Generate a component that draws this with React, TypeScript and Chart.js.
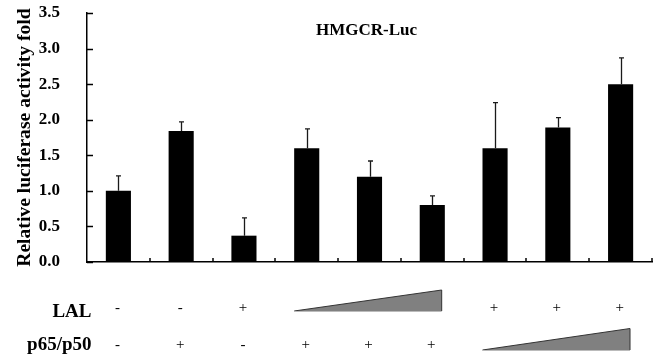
import React, { useEffect, useRef } from 'react';
import { Chart, registerables } from 'chart.js';

Chart.register(...registerables);

const categories = ['1', '2', '3', '4', '5', '6', '7', '8', '9'];
const foldValues = [1.0, 1.84, 0.37, 1.6, 1.2, 0.8, 1.6, 1.89, 2.5];
const errorUp = [0.21, 0.13, 0.25, 0.27, 0.22, 0.13, 0.64, 0.14, 0.37];
const lalSigns = ['-', '-', '+', '', '', '', '+', '+', '+'];
const p65Signs = ['-', '+', '-', '+', '+', '+', '', '', ''];
const lalRamp = [3, 5];
const p65Ramp = [6, 8];
const chartTitle = 'HMGCR-Luc';
const yAxisTitle = 'Relative luciferase activity fold';
const rowLabels = ['LAL', 'p65/p50'];

const SERIF = '"Liberation Serif", "Times New Roman", serif';

const overlayPlugin = {
  id: 'overlay',
  afterDraw(chart: any) {
    const ctx = chart.ctx;
    const x = chart.scales.x;
    const y = chart.scales.y;
    const area = chart.chartArea;
    ctx.save();
    // inward ticks on y axis
    ctx.strokeStyle = '#000';
    ctx.lineWidth = 1.5;
    y.ticks.forEach((t: any) => {
      const py = Math.round(y.getPixelForValue(t.value)) + 0.5;
      ctx.beginPath();
      ctx.moveTo(area.left, py);
      ctx.lineTo(area.left + 6, py);
      ctx.stroke();
    });
    // inward ticks on x axis at category boundaries
    for (let i = 0; i < categories.length; i++) {
      const px = Math.round(x.getPixelForValue(i + 0.5));
      ctx.beginPath();
      ctx.moveTo(px, area.bottom);
      ctx.lineTo(px, area.bottom - 4);
      ctx.stroke();
    }
    // error bars (upper only)
    ctx.strokeStyle = '#1a1a1a';
    ctx.lineWidth = 1.3;
    foldValues.forEach((v, i) => {
      const px = Math.round(x.getPixelForValue(i)) + 0.5;
      const y0 = y.getPixelForValue(v);
      const y1 = y.getPixelForValue(v + errorUp[i]);
      ctx.beginPath();
      ctx.moveTo(px, y0);
      ctx.lineTo(px, y1);
      ctx.moveTo(px - 2.5, y1);
      ctx.lineTo(px + 2.5, y1);
      ctx.stroke();
    });
    // chart title
    ctx.fillStyle = '#000';
    ctx.font = `bold 17px ${SERIF}`;
    ctx.textAlign = 'center';
    ctx.textBaseline = 'middle';
    ctx.fillText(chartTitle, (area.left + area.right) / 2 - 3, area.top + 18);

    // condition rows
    const rowBase = [area.bottom + 55, area.bottom + 88];
    ctx.textAlign = 'right';
    ctx.textBaseline = 'alphabetic';
    ctx.font = `bold 19px ${SERIF}`;
    rowLabels.forEach((lbl, r) => {
      ctx.fillText(lbl, area.left + 4.5, rowBase[r]);
    });
    ctx.textAlign = 'center';
    ctx.font = `15px ${SERIF}`;
    const signBase = [area.bottom + 50, area.bottom + 87];
    [lalSigns, p65Signs].forEach((signs, r) => {
      signs.forEach((s, i) => {
        if (s) ctx.fillText(s, x.getPixelForValue(i) - 1, signBase[r]);
      });
    });
    // dose ramps
    const ramps = [
      { span: lalRamp, bottom: area.bottom + 49, top: area.bottom + 28 },
      { span: p65Ramp, bottom: area.bottom + 88, top: area.bottom + 66.5 },
    ];
    ramps.forEach((rp) => {
      const xl = x.getPixelForValue(rp.span[0] - 1 - 0.2 + 1);
      const xr = x.getPixelForValue(rp.span[1] - 1 + 0.15 + 1);
      ctx.beginPath();
      ctx.moveTo(xl, rp.bottom);
      ctx.lineTo(xr, rp.top);
      ctx.lineTo(xr, rp.bottom);
      ctx.closePath();
      ctx.fillStyle = '#808080';
      ctx.fill();
      ctx.strokeStyle = '#333';
      ctx.lineWidth = 1;
      ctx.beginPath();
      ctx.moveTo(xl, rp.bottom);
      ctx.lineTo(xr, rp.top);
      ctx.lineTo(xr, rp.bottom);
      ctx.stroke();
      ctx.strokeStyle = '#bbb';
      ctx.beginPath();
      ctx.moveTo(xl, rp.bottom + 0.5);
      ctx.lineTo(xr, rp.bottom + 0.5);
      ctx.stroke();
    });
    ctx.restore();
  },
};

export default function App() {
  const ref = useRef<HTMLCanvasElement | null>(null);
  useEffect(() => {
    if (!ref.current) return;
    const chart = new Chart(ref.current, {
      type: 'bar',
      data: {
        labels: categories,
        datasets: [
          {
            data: foldValues,
            backgroundColor: '#000',
            barPercentage: 0.4,
            categoryPercentage: 1.0,
          },
        ],
      },
      options: {
        responsive: false,
        animation: false,
        layout: { padding: { top: 13, right: 6, bottom: 86, left: 0 } },
        plugins: {
          legend: { display: false },
          tooltip: { enabled: false },
        },
        scales: {
          x: {
            offset: true,
            grid: { display: false },
            border: { display: true, color: '#000', width: 1.5 },
            ticks: { display: false },
          },
          y: {
            min: 0,
            max: 3.5,
            grid: { display: false },
            border: { display: true, color: '#000', width: 1.5 },
            ticks: {
              stepSize: 0.5,
              padding: 19,
              color: '#000',
              font: { family: SERIF, size: 17, weight: 'bold' },
              callback: (v: any) => Number(v).toFixed(1),
            },
            title: {
              display: true,
              text: yAxisTitle,
              color: '#000',
              font: { family: SERIF, size: 19.6, weight: 'bold' },
              padding: { top: 13, bottom: 0 },
            },
            afterFit: (s: any) => {
              s.width = 87;
              s.paddingTop = 0;
              s.paddingBottom = 0;
            },
          },
        },
      },
      plugins: [overlayPlugin],
    } as any);
    return () => chart.destroy();
  }, []);
  return (
    <div style={{ position: 'absolute', left: 0, top: 0, width: 658, height: 356 }}>
      <canvas ref={ref} width={658} height={356} style={{ display: 'block' }} />
    </div>
  );
}
